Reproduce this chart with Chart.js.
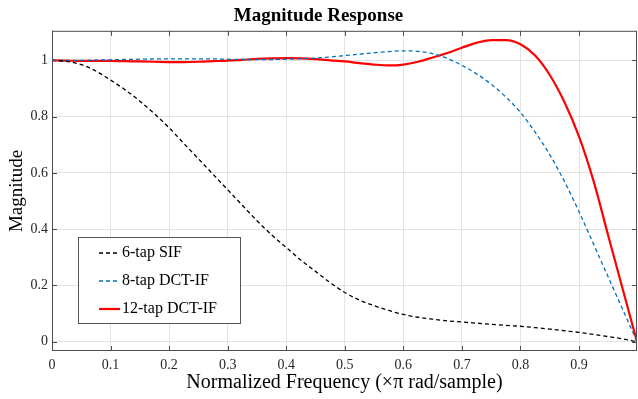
<!DOCTYPE html>
<html>
<head>
<meta charset="utf-8">
<script src="https://cdn.jsdelivr.net/npm/chart.js@4/dist/chart.umd.min.js"></script>
<style>
  html, body { margin: 0; padding: 0; background: #fff; }
</style>
</head>
<body>
<canvas id="chart" width="638" height="399"></canvas>
<script>
// normalized frequency samples (x pi rad/sample)
const freq = [0, 0.025, 0.05, 0.075, 0.1, 0.125, 0.15, 0.175, 0.2, 0.225, 0.25, 0.275, 0.3, 0.325, 0.35, 0.375, 0.4, 0.425, 0.45, 0.475,
  0.5, 0.525, 0.55, 0.575, 0.6, 0.625, 0.65, 0.675, 0.7, 0.725, 0.75, 0.775, 0.8, 0.825, 0.85, 0.875, 0.9, 0.925, 0.95, 0.975, 0.999];

const sif6 = [1.0, 0.996, 0.985, 0.962, 0.93, 0.895, 0.855, 0.81, 0.76, 0.705, 0.65, 0.595, 0.54, 0.485, 0.43, 0.38, 0.335, 0.29, 0.25, 0.21,
  0.175, 0.148, 0.128, 0.111, 0.097, 0.087, 0.08, 0.074, 0.07, 0.066, 0.062, 0.058, 0.055, 0.05, 0.045, 0.039, 0.033, 0.026, 0.018, 0.01, 0.0];

const dct8 = [1.0, 1.0, 1.0, 1.001, 1.002, 1.003, 1.004, 1.005, 1.005, 1.005, 1.005, 1.005, 1.004, 1.003, 1.003, 1.003, 1.004, 1.006, 1.008, 1.012,
  1.017, 1.022, 1.027, 1.031, 1.034, 1.032, 1.024, 1.007, 0.982, 0.952, 0.915, 0.87, 0.815, 0.745, 0.665, 0.57, 0.462, 0.346, 0.229, 0.113, 0.0];

const dct12 = [1.0, 0.999, 0.998, 0.998, 0.998, 0.997, 0.996, 0.995, 0.994, 0.994, 0.995, 0.997, 0.999, 1.002, 1.005, 1.007, 1.008, 1.007, 1.004, 1.0,
  0.996, 0.99, 0.985, 0.982, 0.985, 0.995, 1.01, 1.026, 1.045, 1.062, 1.072, 1.072, 1.057, 1.017, 0.948, 0.852, 0.729, 0.57, 0.376, 0.184, 0.0];

const xTicks = [0, 0.1, 0.2, 0.3, 0.4, 0.5, 0.6, 0.7, 0.8, 0.9];
const yTicks = [0, 0.2, 0.4, 0.6, 0.8, 1];

const serif = "'Liberation Serif', 'Times New Roman', serif";

const pts = (ys) => freq.map((f, i) => ({ x: f, y: ys[i] }));

// MATLAB style box, inward ticks and legend inside the axes
const axesBox = {
  id: 'axesBox',
  afterDraw(chart) {
    const { ctx, chartArea: a, scales } = chart;
    ctx.save();
    ctx.strokeStyle = '#4d4d4d';
    ctx.lineWidth = 1;
    ctx.strokeRect(a.left + 0.5, a.top + 0.5, a.right - a.left - 1, a.bottom - a.top - 1);
    ctx.beginPath();
    xTicks.forEach(v => {
      const px = Math.round(scales.x.getPixelForValue(v)) + 0.5;
      ctx.moveTo(px, a.bottom); ctx.lineTo(px, a.bottom - 5);
      ctx.moveTo(px, a.top); ctx.lineTo(px, a.top + 5);
    });
    yTicks.forEach(v => {
      const py = Math.round(scales.y.getPixelForValue(v)) + 0.5;
      ctx.moveTo(a.left, py); ctx.lineTo(a.left + 5, py);
      ctx.moveTo(a.right, py); ctx.lineTo(a.right - 5, py);
    });
    ctx.stroke();

    // legend
    const lx = 78, ly = 237, lw = 162, lh = 86;
    ctx.fillStyle = '#fff';
    ctx.fillRect(lx, ly, lw, lh);
    ctx.strokeStyle = '#555';
    ctx.strokeRect(lx + 0.5, ly + 0.5, lw, lh);
    ctx.font = '16px ' + serif;
    ctx.textBaseline = 'middle';
    chart.data.datasets.forEach((ds, i) => {
      const yy = ly + 16 + i * 28;
      ctx.beginPath();
      ctx.strokeStyle = ds.borderColor;
      ctx.lineWidth = ds.borderWidth;
      ctx.setLineDash(ds.borderDash || []);
      ctx.moveTo(lx + 21, yy); ctx.lineTo(lx + 42, yy);
      ctx.stroke();
      ctx.setLineDash([]);
      ctx.fillStyle = '#000';
      ctx.fillText(ds.label, lx + 44, yy);
    });
    ctx.restore();
  }
};

new Chart(document.getElementById('chart'), {
  type: 'line',
  data: {
    datasets: [
      { label: '6-tap SIF', data: pts(sif6), borderColor: '#000000', borderWidth: 1.3, borderDash: [4, 3] },
      { label: '8-tap DCT-IF', data: pts(dct8), borderColor: '#0072BD', borderWidth: 1.3, borderDash: [4, 3] },
      { label: '12-tap DCT-IF', data: pts(dct12), borderColor: '#FF0000', borderWidth: 2.2 }
    ]
  },
  options: {
    responsive: false,
    animation: false,
    parsing: false,
    elements: { point: { radius: 0 }, line: { cubicInterpolationMode: 'monotone', fill: false } },
    layout: { padding: { left: 0, right: 1, top: 0, bottom: 0 } },
    plugins: {
      legend: { display: false },
      tooltip: { enabled: false },
      title: {
        display: true,
        text: 'Magnitude Response',
        color: '#000',
        font: { family: serif, size: 19, weight: 'bold' },
        padding: { top: 5, bottom: 3 }
      }
    },
    scales: {
      x: {
        type: 'linear',
        min: 0,
        max: 0.999,
        afterBuildTicks: s => { s.ticks = xTicks.map(v => ({ value: v })); },
        afterFit: s => { s.height = 48; },
        grid: { color: '#e3e3e3', drawTicks: false },
        border: { display: false },
        ticks: {
          color: '#262626', padding: 6,
          font: { family: serif, size: 14 },
          callback: v => String(v)
        },
        title: {
          display: true, text: 'Normalized Frequency (\u00d7\u03c0 rad/sample)', color: '#000',
          font: { family: serif, size: 20 }, padding: { top: 0, bottom: 4 }
        }
      },
      y: {
        type: 'linear',
        min: -0.033,
        max: 1.105,
        afterBuildTicks: s => { s.ticks = yTicks.map(v => ({ value: v })); },
        afterFit: s => { s.width = 52; },
        grid: { color: '#e3e3e3', drawTicks: false },
        border: { display: false },
        ticks: {
          color: '#262626', padding: 4,
          font: { family: serif, size: 14 },
          callback: v => String(v)
        },
        title: {
          display: true, text: 'Magnitude', color: '#000',
          font: { family: serif, size: 19 }, padding: { top: 6, bottom: 0 }
        }
      }
    }
  },
  plugins: [axesBox]
});
</script>
</body>
</html>
